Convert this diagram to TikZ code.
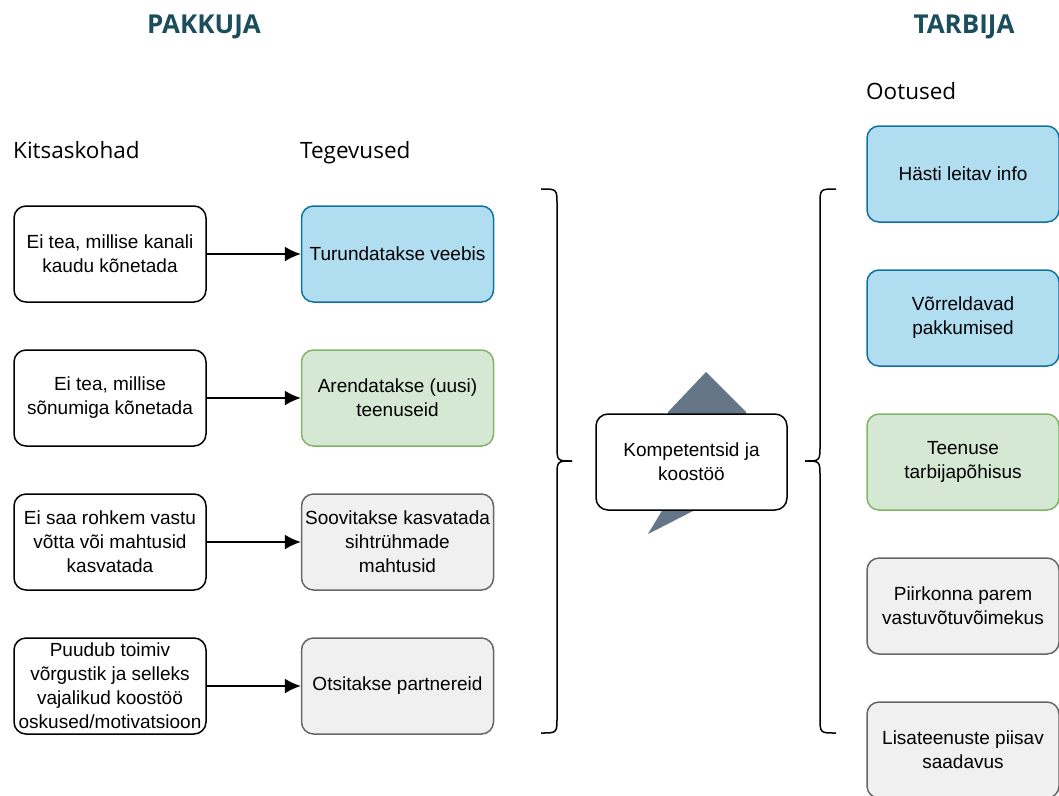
\documentclass[tikz,border=0pt]{standalone}
\usepackage{fontspec}
\setmainfont{Liberation Sans}
\newfontfamily\headfont{Open Sans}
\usepackage{xcolor}
\usetikzlibrary{arrows.meta, positioning}
\definecolor{bluefill}{HTML}{B1DDF0}
\definecolor{bluedraw}{HTML}{10739E}
\definecolor{greenfill}{HTML}{D5E8D4}
\definecolor{greendraw}{HTML}{82B366}
\definecolor{greyfill}{HTML}{F0F0F0}
\definecolor{greydraw}{HTML}{666666}
\definecolor{slate}{HTML}{647687}
\definecolor{titleteal}{HTML}{1B4D5C}
\tikzset{
  plainbox/.style={draw, line width=1.5pt, rounded corners=12pt, align=center,
    minimum width=192pt, minimum height=96pt, fill=white, inner sep=2pt,
    font=\fontsize{19}{24}\selectfont},
  bluebox/.style={plainbox, draw=bluedraw, fill=bluefill},
  greenbox/.style={plainbox, draw=greendraw, fill=greenfill},
  greybox/.style={plainbox, draw=greydraw, fill=greyfill},
  colhead/.style={font=\headfont\fontsize{22.5}{27}\selectfont, anchor=base west, inner sep=0pt},
  sidehead/.style={font=\headfont\bfseries\fontsize{26}{30}\selectfont, text=titleteal,
    anchor=base, inner sep=0pt},
  arrow/.style={-{Latex[length=16pt, width=15pt]}, line width=1.5pt},
  brace/.style={line width=1.5pt}
}

\begin{document}
\begin{tikzpicture}[x=1pt, y=-1pt]
      \useasboundingbox (0,0) rectangle (1059,795);

      % === Headings ===
      \node[sidehead] (pakkuja) at (204,33) {PAKKUJA};
      \node[sidehead] (tarbija) at (964,33) {TARBIJA};
      \node[colhead] (kitsas) at (13,158) {Kitsaskohad};
      \node[colhead] (tegev) at (300,158) {Tegevused};
      \node[colhead] (ootused) at (866,99) {Ootused};

      % === Kitsaskohad ===
      \node[plainbox] (kanal) at (110,254) {Ei tea, millise kanali\\kaudu kõnetada};
      \node[plainbox] (sonum) at (110,398) {Ei tea, millise\\sõnumiga kõnetada};
      \node[plainbox] (maht) at (110,542) {Ei saa rohkem vastu\\võtta või mahtusid\\kasvatada};
      \node[plainbox] (vorgustik) at (110,686) {Puudub toimiv\\võrgustik ja selleks\\vajalikud koostöö\\oskused/motivatsioon};

      % === Tegevused ===
      \node[bluebox] (turundus) at (397.5,254) {Turundatakse veebis};
      \node[greenbox] (arendus) at (397.5,398) {Arendatakse (uusi)\\teenuseid};
      \node[greybox] (kasvatus) at (397.5,542) {Soovitakse kasvatada\\sihtrühmade\\mahtusid};
      \node[greybox] (partner) at (397.5,686) {Otsitakse partnereid};

      \draw[arrow] (kanal) -- (turundus);
      \draw[arrow] (sonum) -- (arendus);
      \draw[arrow] (maht) -- (kasvatus);
      \draw[arrow] (vorgustik) -- (partner);

      % === Middle ===
      \coordinate (ltop) at (541,189);
      \coordinate (lbot) at (541,733);
      \coordinate (ltip) at (572,461);
      \draw[brace] (ltop) .. controls (557,189) .. (557,205) -- (557,445)
        .. controls (557,461) .. (ltip);
      \draw[brace] (lbot) .. controls (557,733) .. (557,717) -- (557,477)
        .. controls (557,461) .. (ltip);

      \fill[slate] (668,412) -- (706,372) -- (746,412) -- (746,440) -- (668,440) -- cycle;
      \fill[slate] (648,534) -- (663,509) -- (663,490) -- (697,490) -- (697,509) -- cycle;
      \node[plainbox, minimum width=191pt] (koostoo) at (691.5,462) {Kompetentsid ja\\koostöö};

      \coordinate (rtop) at (836,189);
      \coordinate (rbot) at (836,733);
      \coordinate (rtip) at (805,461);
      \draw[brace] (rtop) .. controls (820,189) .. (820,205) -- (820,445)
        .. controls (820,461) .. (rtip);
      \draw[brace] (rbot) .. controls (820,733) .. (820,717) -- (820,477)
        .. controls (820,461) .. (rtip);

      % === Ootused ===
      \node[bluebox] (leitav) at (963,174) {Hästi leitav info};
      \node[bluebox] (vorreldav) at (963,318) {Võrreldavad\\pakkumised};
      \node[greenbox] (pohisus) at (963,462) {Teenuse\\tarbijapõhisus};
      \node[greybox] (piirkond) at (963,606) {Piirkonna parem\\vastuvõtuvõimekus};
      \node[greybox] (lisa) at (963,750) {Lisateenuste piisav\\saadavus};
    \end{tikzpicture}
\end{document}
